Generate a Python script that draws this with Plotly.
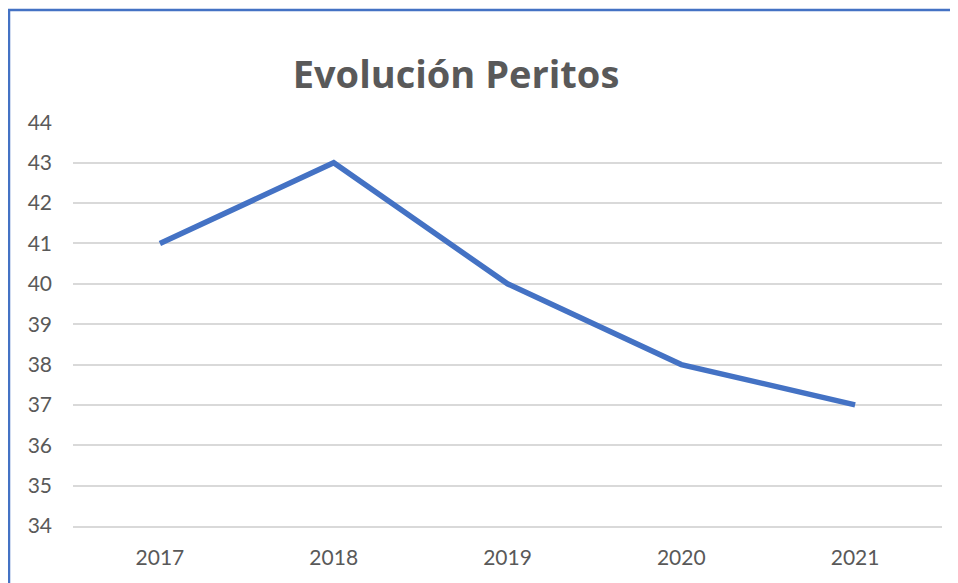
import plotly.graph_objects as go

years = ["2017", "2018", "2019", "2020", "2021"]
peritos = [41, 43, 40, 38, 37]
y_ticks = list(range(34, 45))
title_text = "Evolución Peritos"

OFF = 8  # page body margin
W, H = 958 - OFF, 583 - OFF
L, R, T, B = 73 - OFF, 16, 122 - OFF, 57
pw, ph = W - L - R, H - T - B

def px_x(p):
    return (p - OFF - L) / pw

def px_y(p):
    return (H - B - (p - OFF)) / ph

fig = go.Figure()
fig.add_trace(go.Scatter(
    x=years, y=peritos, mode="lines",
    line=dict(color="#4472C4", width=5.5),
    hoverinfo="x+y",
))

border = "#4472C4"
fig.add_shape(type="line", xref="paper", yref="paper",
              x0=px_x(9), x1=px_x(9), y0=px_y(9), y1=px_y(590),
              line=dict(color=border, width=2.5), layer="above")
fig.add_shape(type="line", xref="paper", yref="paper",
              x0=px_x(8), x1=px_x(965), y0=px_y(10), y1=px_y(10),
              line=dict(color=border, width=2.5), layer="above")

fig.update_layout(
    width=W, height=H,
    margin=dict(l=L, r=R, t=T, b=B),
    paper_bgcolor="white", plot_bgcolor="white",
    showlegend=False,
    font=dict(family="Lato, Open Sans, sans-serif", color="#595959", size=21),
    title=dict(text="<b>" + title_text + "</b>", x=(456 - OFF) / W, xanchor="center",
               y=1 - (75 - OFF) / H, yanchor="middle",
               font=dict(size=38, color="#595959", family="Open Sans, Lato, sans-serif")),
    xaxis=dict(type="category", showgrid=False, showline=True, linecolor="#D9D9D9",
               linewidth=1.8, zeroline=False,
               ticks="", tickfont=dict(size=21, color="#595959"),
               ticklabelstandoff=12, range=[-0.5, 4.5]),
    yaxis=dict(range=[34, 44.01], tickvals=y_ticks, showgrid=True,
               gridcolor="#D9D9D9", gridwidth=1.8, zeroline=False, showline=False,
               ticks="", tickfont=dict(size=21, color="#595959"),
               ticklabelstandoff=20),
)

fig.write_html("out.html")
